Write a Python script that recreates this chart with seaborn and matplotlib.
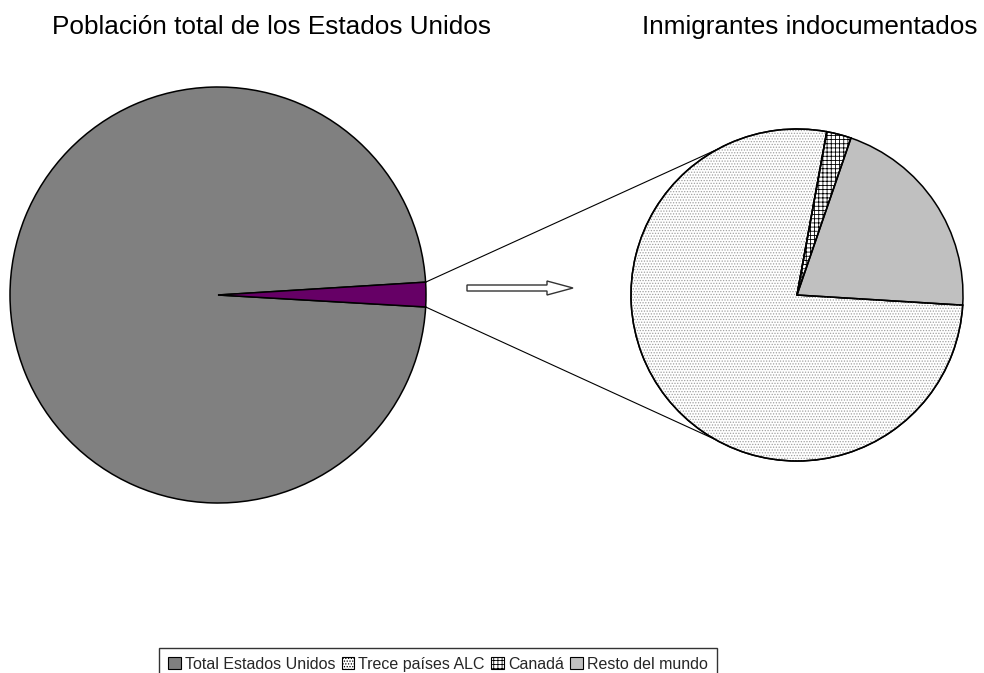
import numpy as np
import seaborn as sns
import matplotlib.pyplot as plt
from matplotlib.patches import Wedge, Patch, FancyArrow

# 데이터
left_labels = ["Total Estados Unidos", "Inmigrantes indocumentados"]
left_values = [98.1, 1.9]
right_labels = ["Trece países ALC", "Canadá", "Resto del mundo"]
right_values = [76.9, 2.4, 20.7]
titles = ["Población total de los Estados Unidos", "Inmigrantes indocumentados"]

sns.set_theme(style="white")
plt.rcParams['font.family'] = ['Liberation Sans', 'DejaVu Sans']
plt.rcParams['hatch.linewidth'] = 0.6

W, H = 984, 673
fig = plt.figure(figsize=(W / 100, H / 100), dpi=100)
ax = fig.add_axes([0, 0, 1, 1])

left_c, left_r = (218, H - 295), 208
right_c, right_r = (797, H - 295), 166

left_colors = ["#808080", "#660066"]
right_colors = ["white", "white", "#C0C0C0"]
right_hatch = ["......", "++++", None]
right_hatch_col = ["#a0a0a0", "black", None]

wl, _ = ax.pie(left_values, colors=left_colors, startangle=-3.3, counterclock=False,
               center=left_c, radius=left_r, frame=True,
               wedgeprops=dict(edgecolor="black", linewidth=1.1))
wr, _ = ax.pie(right_values, colors=right_colors, startangle=356.5, counterclock=False,
               center=right_c, radius=right_r, frame=True,
               wedgeprops=dict(edgecolor="black", linewidth=1.1))

# 패턴 덧그리기
for w, h, hc in zip(wr, right_hatch, right_hatch_col):
    if h is None:
        continue
    ov = Wedge(right_c, right_r, w.theta1, w.theta2, facecolor="none",
               edgecolor=hc, linewidth=0, hatch=h, zorder=w.get_zorder() + 0.1)
    ax.add_patch(ov)
    ax.add_patch(Wedge(right_c, right_r, w.theta1, w.theta2, facecolor="none",
                       edgecolor="black", linewidth=1.1, zorder=w.get_zorder() + 0.2))

# 연결선
small = wl[1]
for t_left, t_right in [(small.theta2, 118.5), (small.theta1, -119.5)]:
    x0 = left_c[0] + left_r * np.cos(np.radians(t_left))
    y0 = left_c[1] + left_r * np.sin(np.radians(t_left))
    x1 = right_c[0] + right_r * np.cos(np.radians(t_right))
    y1 = right_c[1] + right_r * np.sin(np.radians(t_right))
    ax.plot([x0, x1], [y0, y1], color="black", linewidth=0.8, zorder=0.5)

# 화살표
ax.add_patch(FancyArrow(467, H - 288, 106, 0, width=6, head_width=14, head_length=26,
                        length_includes_head=True, facecolor="white", edgecolor="#333333",
                        linewidth=1.0))

ax.text(271, H - 27, titles[0], ha="center", va="center", fontsize=18.8, color="black")
ax.text(810, H - 27, titles[1], ha="center", va="center", fontsize=18.8, color="black")

ax.set_xlim(0, W)
ax.set_ylim(0, H)
ax.set_aspect("equal")
ax.set_axis_off()

handles = [
    Patch(facecolor="#808080", edgecolor="black", linewidth=0.8),
    Patch(facecolor="white", edgecolor="black", hatch="......", linewidth=0.8),
    Patch(facecolor="white", edgecolor="black", hatch="++++", linewidth=0.8),
    Patch(facecolor="#C0C0C0", edgecolor="black", linewidth=0.8),
]
leg = fig.legend(handles, [left_labels[0]] + right_labels, loc="upper center",
                 bbox_to_anchor=(0.445, (H - 648) / H), ncol=4, fontsize=11.5,
                 frameon=True, fancybox=False, edgecolor="black",
                 handlelength=0.8, handleheight=0.8, handletextpad=0.25,
                 columnspacing=0.4, borderpad=0.55, borderaxespad=0)
leg.get_frame().set_linewidth(1.0)

fig.savefig("out.png", dpi=100)
